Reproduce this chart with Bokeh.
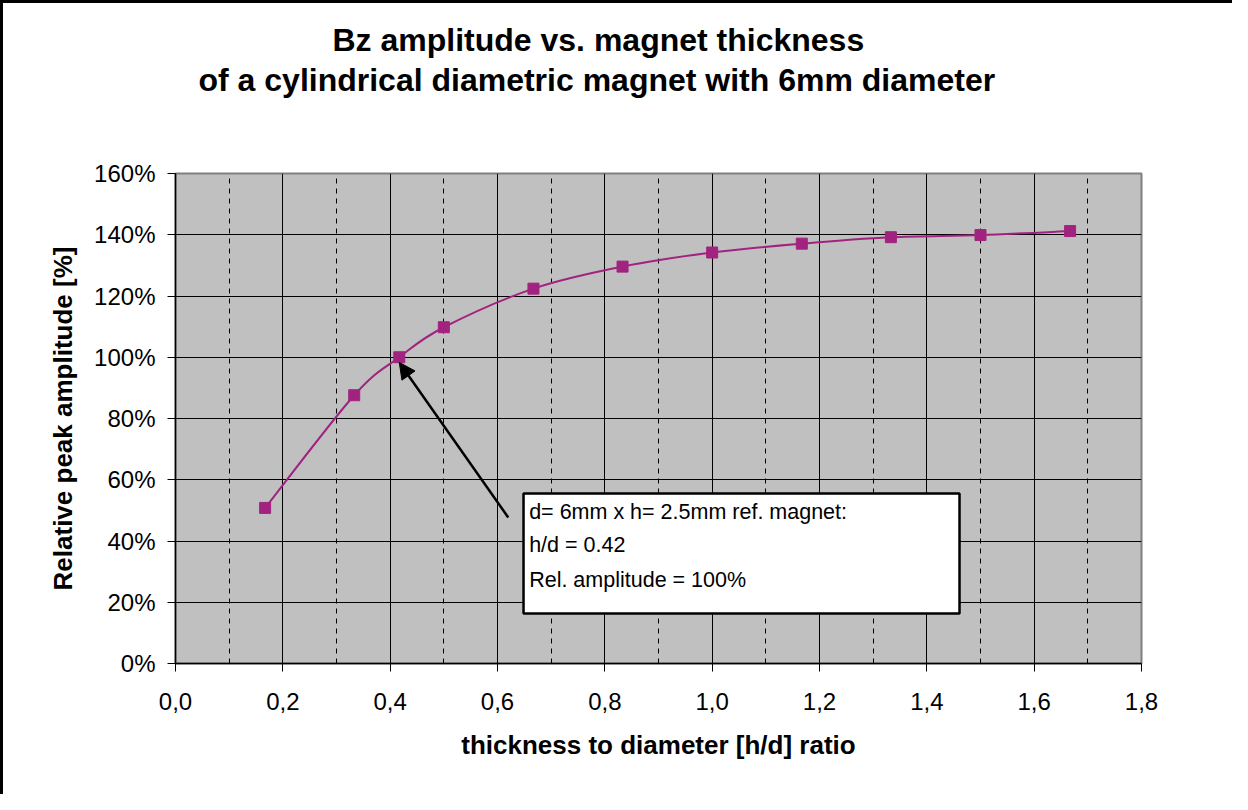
import numpy as np
from bokeh.plotting import figure
from bokeh.models import (Label, BoxAnnotation, Arrow, NormalHead, SingleIntervalTicker,
                          CustomJSTickFormatter, Range1d, Title)
from bokeh.embed import file_html
from bokeh.resources import INLINE

# ---------------- data ----------------
ratio = [0.167, 0.333, 0.417, 0.5, 0.667, 0.833, 1.0, 1.167, 1.333, 1.5, 1.667]
amplitude = [50.8, 87.6, 100.0, 109.8, 122.4, 129.6, 134.2, 137.1, 139.2, 139.9, 141.2]

x_range = (0.0, 1.8)
y_range = (0.0, 160.0)
x_tick_step = 0.2
y_tick_step = 20

title_lines = ["Bz amplitude vs. magnet thickness",
               "of a cylindrical diametric magnet with 6mm diameter"]
x_label = "thickness to diameter [h/d] ratio"
y_label = "Relative peak amplitude [%]"
note_lines = ["d= 6mm x h= 2.5mm ref. magnet:", "h/d = 0.42", "Rel. amplitude = 100%"]

# annotation anchors (data units)
arrow_tail = (0.620, 47.7)
arrow_tip = (0.417, 98.3)
note_box = dict(left=0.6485, right=1.4609, top=55.5, bottom=16.3)
note_text_x = 0.659
note_text_y = [49.5, 38.7, 27.3]

FONT = "Liberation Sans"
LINE_COLOR = "#A2237F"

p = figure(width=1229, height=791,
           frame_width=966, frame_height=490,
           min_border_left=172, min_border_right=91,
           min_border_top=170, min_border_bottom=131,
           x_range=Range1d(*x_range), y_range=Range1d(*y_range),
           output_backend="svg", toolbar_location=None, tools="")
p.styles = {"border-left": "3px solid black", "border-top": "3px solid black"}

p.background_fill_color = "#C0C0C0"
p.border_fill_color = "white"
p.outline_line_color = "#808080"
p.outline_line_width = 2

# axes
p.xaxis.ticker = SingleIntervalTicker(interval=x_tick_step, num_minor_ticks=2)
p.yaxis.ticker = SingleIntervalTicker(interval=y_tick_step, num_minor_ticks=0)
p.xaxis.formatter = CustomJSTickFormatter(code="return tick.toFixed(1).replace('.', ',');")
p.yaxis.formatter = CustomJSTickFormatter(code="return tick.toFixed(0) + '%';")
for ax in (p.xaxis[0], p.yaxis[0]):
    ax.axis_line_color = "black"
    ax.axis_line_width = 1.5
    ax.major_tick_line_color = "black"
    ax.major_tick_in = 0
    ax.major_tick_out = 8
    ax.minor_tick_line_color = None
    ax.major_label_text_font = FONT
    ax.major_label_text_font_size = "24px"
    ax.major_label_text_color = "black"
    ax.axis_label_text_font = FONT
    ax.axis_label_text_font_size = "26px"
    ax.axis_label_text_font_style = "bold"
    ax.axis_label_text_color = "black"
p.xaxis.axis_label = x_label
p.yaxis.axis_label = y_label
p.xaxis.major_label_standoff = 21
p.yaxis.major_label_standoff = 12
p.xaxis.axis_label_standoff = 17
p.yaxis.axis_label_standoff = 13

# grids
p.xgrid.grid_line_color = "black"
p.xgrid.grid_line_width = 1
p.xgrid.minor_grid_line_color = "black"
p.xgrid.minor_grid_line_dash = "5 5"
p.xgrid.minor_grid_line_width = 1
p.ygrid.grid_line_color = "black"
p.ygrid.grid_line_width = 1

# smoothed line (Catmull-Rom -> cubic Bezier segments through the data points)
xs = np.array(ratio)
ys = np.array(amplitude)
n = len(xs)
x0, y0, x1, y1, cx0, cy0, cx1, cy1 = ([] for _ in range(8))
for i in range(n - 1):
    a = max(i - 1, 0)
    d = min(i + 2, n - 1)
    x0.append(xs[i]); y0.append(ys[i])
    x1.append(xs[i + 1]); y1.append(ys[i + 1])
    cx0.append(xs[i] + (xs[i + 1] - xs[a]) / 6)
    cy0.append(ys[i] + (ys[i + 1] - ys[a]) / 6)
    cx1.append(xs[i + 1] - (xs[d] - xs[i]) / 6)
    cy1.append(ys[i + 1] - (ys[d] - ys[i]) / 6)
p.bezier(x0=x0, y0=y0, x1=x1, y1=y1, cx0=cx0, cy0=cy0, cx1=cx1, cy1=cy1,
         line_color=LINE_COLOR, line_width=2)
p.scatter(ratio, amplitude, marker="square", size=11,
          fill_color=LINE_COLOR, line_color=LINE_COLOR)

# arrow annotation
p.add_layout(Arrow(end=NormalHead(size=16, fill_color="black", line_color="black"),
                   x_start=arrow_tail[0], y_start=arrow_tail[1],
                   x_end=arrow_tip[0], y_end=arrow_tip[1],
                   line_color="black", line_width=2.5))

# note box
p.add_layout(BoxAnnotation(fill_color="white", fill_alpha=1.0,
                           line_color="black", line_width=2.5, line_alpha=1.0,
                           **note_box))
for txt, ty in zip(note_lines, note_text_y):
    p.add_layout(Label(x=note_text_x, y=ty, text=txt, text_font=FONT,
                       text_font_size="21.5px", text_color="black",
                       text_baseline="middle", text_align="left"))

# title (two lines above the frame, spacer nearest to the frame)
p.add_layout(Title(text=" ", text_font_size="1px", standoff=72), "above")
p.add_layout(Title(text=title_lines[1], align="left", offset=23, standoff=2,
                   text_font=FONT, text_font_size="32px", text_font_style="bold",
                   text_color="black"), "above")
p.add_layout(Title(text=title_lines[0], align="left", offset=157, standoff=2,
                   text_font=FONT, text_font_size="32px", text_font_style="bold",
                   text_color="black"), "above")

open("out.html", "w").write(file_html(p, INLINE))
